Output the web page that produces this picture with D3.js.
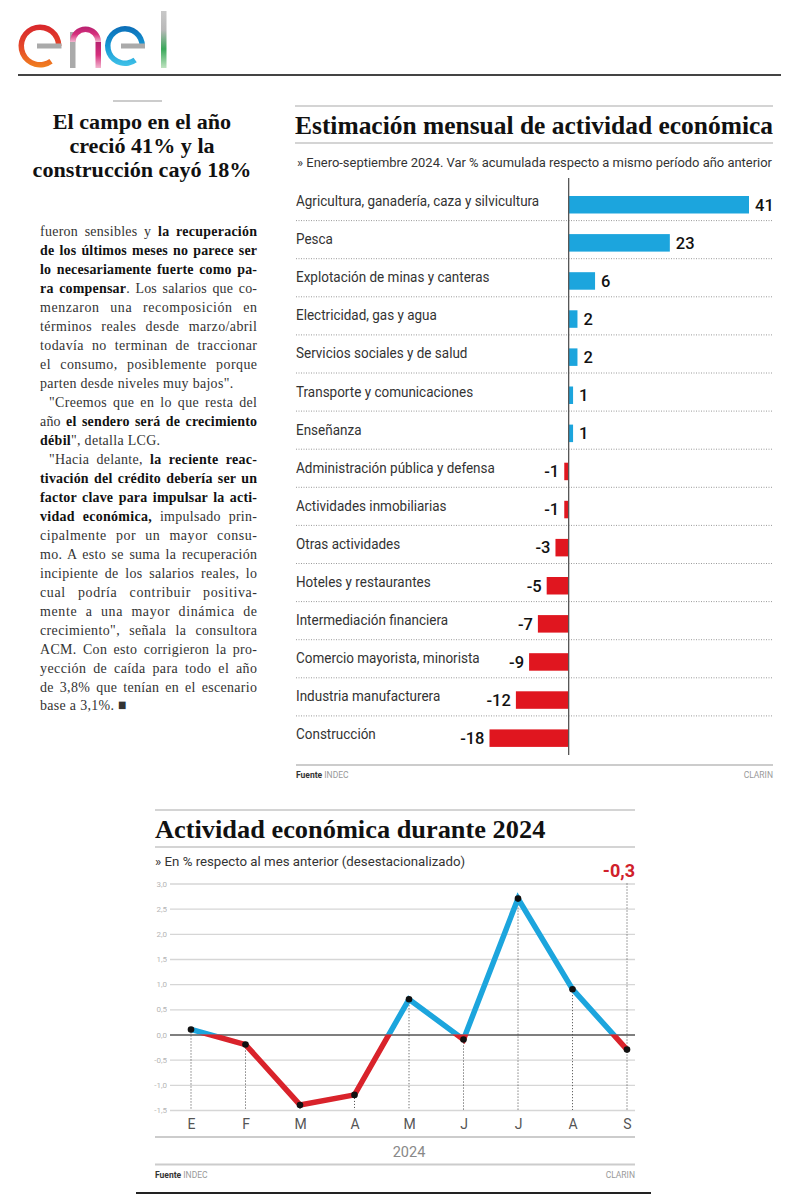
<!DOCTYPE html>
<html>
<head>
<meta charset="utf-8">
<script src="https://cdn.jsdelivr.net/npm/d3@7"></script>
<style>
  body { margin: 0; background: #fff; }
  svg { display: block; }
</style>
</head>
<body>
<div id="page"></div>
<script>
// ---- data ----
const headline = ["El campo en el año", "creció 41% y la", "construcción cayó 18%"];

// [text with **bold** runs, mode] mode: 1 justified, 2 justified + indent, 0 ragged
const bodyLines = [
    ["fueron sensibles y **la recuperación**", 1],
    ["**de los últimos meses no parece ser**", 1],
    ["**lo necesariamente fuerte como pa-**", 1],
    ["**ra compensar**. Los salarios que co-", 1],
    ["menzaron una recomposición en", 1],
    ["términos reales desde marzo/abril", 1],
    ["todavía no terminan de traccionar", 1],
    ["el consumo, posiblemente porque", 1],
    ["parten desde niveles muy bajos\".", 0],
    ["\"Creemos que en lo que resta del", 2],
    ["año **el sendero será de crecimiento**", 1],
    ["**débil**\", detalla LCG.", 0],
    ["\"Hacia delante, **la reciente reac-**", 2],
    ["**tivación del crédito debería ser un**", 1],
    ["**factor clave para impulsar la acti-**", 1],
    ["**vidad económica,** impulsado prin-", 1],
    ["cipalmente por un mayor consu-", 1],
    ["mo. A esto se suma la recuperación", 1],
    ["incipiente de los salarios reales, lo", 1],
    ["cual podría contribuir positiva-", 1],
    ["mente a una mayor dinámica de", 1],
    ["crecimiento\", señala la consultora", 1],
    ["ACM. Con esto corrigieron la pro-", 1],
    ["yección de caída para todo el año", 1],
    ["de 3,8% que tenían en el escenario", 1],
    ["base a 3,1%. ■", 0]
];

const barTitle = "Estimación mensual de actividad económica";
const barSubtitle = "» Enero-septiembre 2024. Var % acumulada respecto a mismo período año anterior";
const sectors = [
    "Agricultura, ganadería, caza y silvicultura",
    "Pesca",
    "Explotación de minas y canteras",
    "Electricidad, gas y agua",
    "Servicios sociales y de salud",
    "Transporte y comunicaciones",
    "Enseñanza",
    "Administración pública y defensa",
    "Actividades inmobiliarias",
    "Otras actividades",
    "Hoteles y restaurantes",
    "Intermediación financiera",
    "Comercio mayorista, minorista",
    "Industria manufacturera",
    "Construcción"
];
const sectorValues = [41, 23, 6, 2, 2, 1, 1, -1, -1, -3, -5, -7, -9, -12, -18];

const lineTitle = "Actividad económica durante 2024";
const lineSubtitle = "» En % respecto al mes anterior (desestacionalizado)";
const months = ["E", "F", "M", "A", "M", "J", "J", "A", "S"];
const monthly = [0.1, -0.2, -1.4, -1.2, 0.7, -0.1, 2.7, 0.9, -0.3];
const yTicks = [-1.5, -1.0, -0.5, 0.0, 0.5, 1.0, 1.5, 2.0, 2.5, 3.0];
const yearLabel = "2024";

// ---- page ----
const W = 800, H = 1200;
const blue = '#1ca5dd', red = '#e0161f';
const serif = "'Liberation Serif', 'DejaVu Serif', serif";
const sans = "Roboto, 'Liberation Sans', sans-serif";

const svg = d3.select('#page').append('svg')
    .attr('width', W).attr('height', H);
const defs = svg.append('defs');

const es = d3.formatLocale({decimal: ",", thousands: ".", grouping: [3], currency: ["", ""], minus: "-"});
const fmt1 = es.format(".1f");

// ---- logo ----
function grad(id, stops, x2 = 0, y2 = 1) {
    const g = defs.append('linearGradient').attr('id', id)
        .attr('x1', 0).attr('y1', 0).attr('x2', x2).attr('y2', y2);
    stops.forEach((c, i) => g.append('stop')
        .attr('offset', i / (stops.length - 1)).attr('stop-color', c));
}
grad('gE1', ['#d8262c', '#e4462a', '#f0801f']);
grad('gN', ['#b7216f', '#d6307d', '#f2b6cf']);
grad('gE2', ['#0c6db7', '#1597d4', '#40c2e8']);
grad('gL', ['#c8c8c8', '#b9b9b9', '#39a85a', '#bfe3c0']);

const logo = svg.append('g');
const eArc = d3.arc().innerRadius(16).outerRadius(21.5)
    .startAngle(0.8 * Math.PI).endAngle(2.5 * Math.PI);
logo.append('path').attr('d', eArc()).attr('transform', 'translate(40,46)').attr('fill', 'url(#gE1)');
logo.append('rect').attr('x', 37).attr('y', 43.5).attr('width', 24.5).attr('height', 5).attr('fill', '#aaa');

logo.append('rect').attr('x', 70).attr('y', 32).attr('width', 5.5).attr('height', 36).attr('fill', '#aaa');
const nArc = d3.arc().innerRadius(10).outerRadius(15.5)
    .startAngle(-0.5 * Math.PI).endAngle(0.5 * Math.PI);
logo.append('path').attr('d', nArc()).attr('transform', 'translate(85.5,42)').attr('fill', 'url(#gN)');
logo.append('rect').attr('x', 95.5).attr('y', 42).attr('width', 5.5).attr('height', 26).attr('fill', 'url(#gN)');

const eArc2 = d3.arc().innerRadius(14.5).outerRadius(20)
    .startAngle(0.8 * Math.PI).endAngle(2.5 * Math.PI);
logo.append('path').attr('d', eArc2()).attr('transform', 'translate(125,46)').attr('fill', 'url(#gE2)');
logo.append('rect').attr('x', 121).attr('y', 43.5).attr('width', 24).attr('height', 5).attr('fill', '#aaa');

logo.append('rect').attr('x', 161).attr('y', 11).attr('width', 5.5).attr('height', 57).attr('fill', 'url(#gL)');

svg.append('line').attr('x1', 18).attr('x2', 781).attr('y1', 75).attr('y2', 75)
    .attr('stroke', '#444').attr('stroke-width', 2);

// ---- left column ----
const left = svg.append('g');
left.append('line').attr('x1', 113).attr('x2', 162).attr('y1', 101).attr('y2', 101)
    .attr('stroke', '#999').attr('stroke-width', 1);

left.selectAll('.head')
    .data(headline)
    .enter()
    .append('text')
    .attr('transform', (d, i) => `translate(142, ${129 + i * 24}) scale(1.08,1)`)
    .attr('text-anchor', 'middle')
    .style('font-family', serif)
    .style('font-weight', 'bold')
    .style('font-size', '20.5px')
    .attr('fill', '#111')
    .text(d => d);

const colX = 40, colW = 217, sx = 0.9, lead = 18.96;
const body = left.append('g').attr('transform', `translate(${colX},0) scale(${sx},1)`);
bodyLines.forEach((row, i) => {
    const [txt, mode] = row;
    const indent = mode === 2 ? 9 / sx : 0;
    const t = body.append('text')
        .attr('x', indent)
        .attr('y', 236.5 + i * lead)
        .style('font-family', serif)
        .style('font-size', '15.5px')
        .attr('fill', '#222');
    txt.split('**').forEach((part, k) => {
        if (!part) return;
        t.append('tspan').text(part)
            .style('font-weight', k % 2 ? 'bold' : 'normal')
            .attr('fill', k % 2 ? '#111' : '#333');
    });
    if (mode) {
        // justify: share the slack between word gaps and letter gaps
        const target = colW / sx - indent;
        const extra = target - t.node().getComputedTextLength();
        const gaps = (txt.match(/ /g) || []).length;
        const chars = txt.replace(/\*\*/g, '').length - 1;
        t.style('letter-spacing', (extra * 0.45 / chars) + 'px');
        if (gaps) t.style('word-spacing', (extra * 0.55 / gaps) + 'px');
    } else {
        t.style('letter-spacing', '0.35px');
    }
});

// ---- bar chart ----
const bx0 = 295, bx1 = 773;
const bar = svg.append('g');
bar.append('line').attr('x1', bx0).attr('x2', bx1).attr('y1', 106).attr('y2', 106)
    .attr('stroke', '#aaa').attr('stroke-width', 1.2);
bar.append('text')
    .attr('x', bx0).attr('y', 134)
    .attr('textLength', bx1 - bx0).attr('lengthAdjust', 'spacingAndGlyphs')
    .style('font-family', serif).style('font-weight', 'bold').style('font-size', '25px')
    .attr('fill', '#111')
    .text(barTitle);
bar.append('line').attr('x1', bx0).attr('x2', bx1).attr('y1', 143).attr('y2', 143)
    .attr('stroke', '#aaa').attr('stroke-width', 1.2);
bar.append('text')
    .attr('x', bx0 + 2).attr('y', 166.5)
    .attr('textLength', bx1 - bx0 - 3).attr('lengthAdjust', 'spacingAndGlyphs')
    .style('font-family', sans).style('font-size', '12.5px')
    .attr('fill', '#333')
    .text(barSubtitle);

const x = d3.scaleLinear()
    .domain([d3.min(sectorValues), d3.max(sectorValues)])
    .range([489.5, 749]);
const y = d3.scaleBand()
    .domain(sectors)
    .range([182.5, 754]);

bar.selectAll('.sep')
    .data(sectors.slice(0, -1))
    .enter()
    .append('line')
    .attr('x1', 296).attr('x2', bx1)
    .attr('y1', d => y(d) + y.bandwidth())
    .attr('y2', d => y(d) + y.bandwidth())
    .attr('stroke', '#9a9a9a')
    .attr('stroke-width', 1)
    .attr('stroke-dasharray', '1,1.5');

bar.selectAll('.bar')
    .data(sectors)
    .enter()
    .append('rect')
    .attr('x', (d, i) => x(Math.min(0, sectorValues[i])))
    .attr('y', d => y(d) + 13.5)
    .attr('width', (d, i) => Math.abs(x(sectorValues[i]) - x(0)))
    .attr('height', 17.5)
    .attr('fill', (d, i) => sectorValues[i] >= 0 ? blue : red);

bar.append('line')
    .attr('x1', x(0)).attr('x2', x(0))
    .attr('y1', 178).attr('y2', 755)
    .attr('stroke', '#555').attr('stroke-width', 1.3);

bar.selectAll('.label')
    .data(sectors)
    .enter()
    .append('text')
    .attr('transform', d => `translate(296, ${y(d) + 23.5}) scale(0.93,1)`)
    .style('font-family', sans)
    .style('font-size', '14.5px')
    .attr('fill', '#333')
    .text(d => d);

bar.selectAll('.value')
    .data(sectors)
    .enter()
    .append('text')
    .attr('x', (d, i) => x(sectorValues[i]) + (sectorValues[i] >= 0 ? 6 : -5))
    .attr('y', d => y(d) + 28)
    .attr('text-anchor', (d, i) => sectorValues[i] >= 0 ? 'start' : 'end')
    .style('font-family', sans)
    .style('font-weight', 500)
    .style('font-size', '16.5px')
    .attr('fill', '#111')
    .text((d, i) => sectorValues[i]);

bar.append('line').attr('x1', 296).attr('x2', bx1).attr('y1', 765).attr('y2', 765)
    .attr('stroke', '#bbb').attr('stroke-width', 1.5);

function footer(g, yy, xa, xb) {
    const f = g.append('text').attr('x', xa).attr('y', yy)
        .style('font-family', sans).style('font-size', '8.5px');
    f.append('tspan').text('Fuente ').style('font-weight', 'bold').attr('fill', '#333');
    f.append('tspan').text('INDEC').attr('fill', '#999');
    g.append('text').attr('x', xb).attr('y', yy).attr('text-anchor', 'end')
        .style('font-family', sans).style('font-size', '8.5px').attr('fill', '#999')
        .text('CLARIN');
}
footer(bar, 777.5, 296, bx1);

// ---- line chart ----
const lx0 = 155, lx1 = 635;
const lc = svg.append('g');
lc.append('line').attr('x1', lx0).attr('x2', lx1).attr('y1', 810).attr('y2', 810)
    .attr('stroke', '#aaa').attr('stroke-width', 1.2);
lc.append('text')
    .attr('transform', `translate(${lx0}, 837.5) scale(1.055,1)`)
    .style('font-family', serif).style('font-weight', 'bold').style('font-size', '25px')
    .attr('fill', '#111')
    .text(lineTitle);
lc.append('line').attr('x1', lx0).attr('x2', lx1).attr('y1', 847).attr('y2', 847)
    .attr('stroke', '#aaa').attr('stroke-width', 1.2);
lc.append('text')
    .attr('transform', `translate(${lx0}, 866) scale(1.02,1)`)
    .style('font-family', sans).style('font-size', '13px')
    .attr('fill', '#333')
    .text(lineSubtitle);

const px = d3.scalePoint()
    .domain(d3.range(months.length))
    .range([191, 627]);
const py = d3.scaleLinear()
    .domain([d3.min(yTicks), d3.max(yTicks)])
    .range([1110, 883.5]);

const yAxis = d3.axisLeft(py)
    .tickValues(yTicks)
    .tickSize(-(lx1 - 170))
    .tickPadding(3)
    .tickFormat(fmt1);
const ya = lc.append('g')
    .attr('transform', 'translate(170,0)')
    .call(yAxis);
ya.select('.domain').remove();
ya.selectAll('.tick line')
    .attr('stroke', d => d === 0 ? '#555' : '#d6d6d6')
    .attr('stroke-width', d => d === 0 ? 1.4 : 1.3);
ya.selectAll('.tick text')
    .attr('fill', '#b5b5b5')
    .style('font-family', sans)
    .style('font-size', '8px');

// dotted drop lines
lc.selectAll('.drop')
    .data(monthly)
    .enter()
    .append('line')
    .attr('x1', (d, i) => px(i)).attr('x2', (d, i) => px(i))
    .attr('y1', (d, i) => i === monthly.length - 1 ? py(d3.max(yTicks)) : py(d))
    .attr('y2', py(d3.min(yTicks)))
    .attr('stroke', '#444')
    .attr('stroke-width', 1)
    .attr('stroke-dasharray', '1,2');

defs.append('clipPath').attr('id', 'above')
    .append('rect').attr('x', 0).attr('y', 0).attr('width', W).attr('height', py(0));
defs.append('clipPath').attr('id', 'below')
    .append('rect').attr('x', 0).attr('y', py(0)).attr('width', W).attr('height', H);

const valueLine = d3.line()
    .x((d, i) => px(i))
    .y(d => py(d));
[['above', blue], ['below', '#d9232b']].forEach(([clip, col]) => {
    lc.append('path')
        .attr('d', valueLine(monthly))
        .attr('clip-path', `url(#${clip})`)
        .attr('fill', 'none')
        .attr('stroke', col)
        .attr('stroke-width', 5.5)
        .attr('stroke-linejoin', 'miter');
});

lc.selectAll('.dot')
    .data(monthly)
    .enter()
    .append('circle')
    .attr('cx', (d, i) => px(i))
    .attr('cy', d => py(d))
    .attr('r', 3.3)
    .attr('fill', '#111');

lc.append('text')
    .attr('x', lx1).attr('y', 877)
    .attr('text-anchor', 'end')
    .style('font-family', sans).style('font-weight', 'bold').style('font-size', '18px')
    .attr('fill', '#d0212b')
    .text(fmt1(monthly[monthly.length - 1]));

const xAxis = d3.axisBottom(px)
    .tickSize(0)
    .tickPadding(0)
    .tickFormat(i => months[i]);
const xa = lc.append('g')
    .attr('transform', 'translate(0,1119)')
    .call(xAxis);
xa.select('.domain').remove();
xa.selectAll('.tick text')
    .attr('fill', '#555')
    .style('font-family', sans)
    .style('font-size', '14px');

lc.append('line').attr('x1', lx0).attr('x2', lx1).attr('y1', 1137).attr('y2', 1137)
    .attr('stroke', '#ccc').attr('stroke-width', 2);
lc.append('text')
    .attr('x', (px.range()[0] + px.range()[1]) / 2).attr('y', 1157)
    .attr('text-anchor', 'middle')
    .style('font-family', sans).style('font-size', '14.5px')
    .attr('fill', '#888')
    .text(yearLabel);
lc.append('line').attr('x1', lx0).attr('x2', lx1).attr('y1', 1164.5).attr('y2', 1164.5)
    .attr('stroke', '#ccc').attr('stroke-width', 2);
footer(lc, 1178, lx0, lx1);

svg.append('line').attr('x1', 136).attr('x2', 651).attr('y1', 1193).attr('y2', 1193)
    .attr('stroke', '#222').attr('stroke-width', 2);
</script>
</body>
</html>
